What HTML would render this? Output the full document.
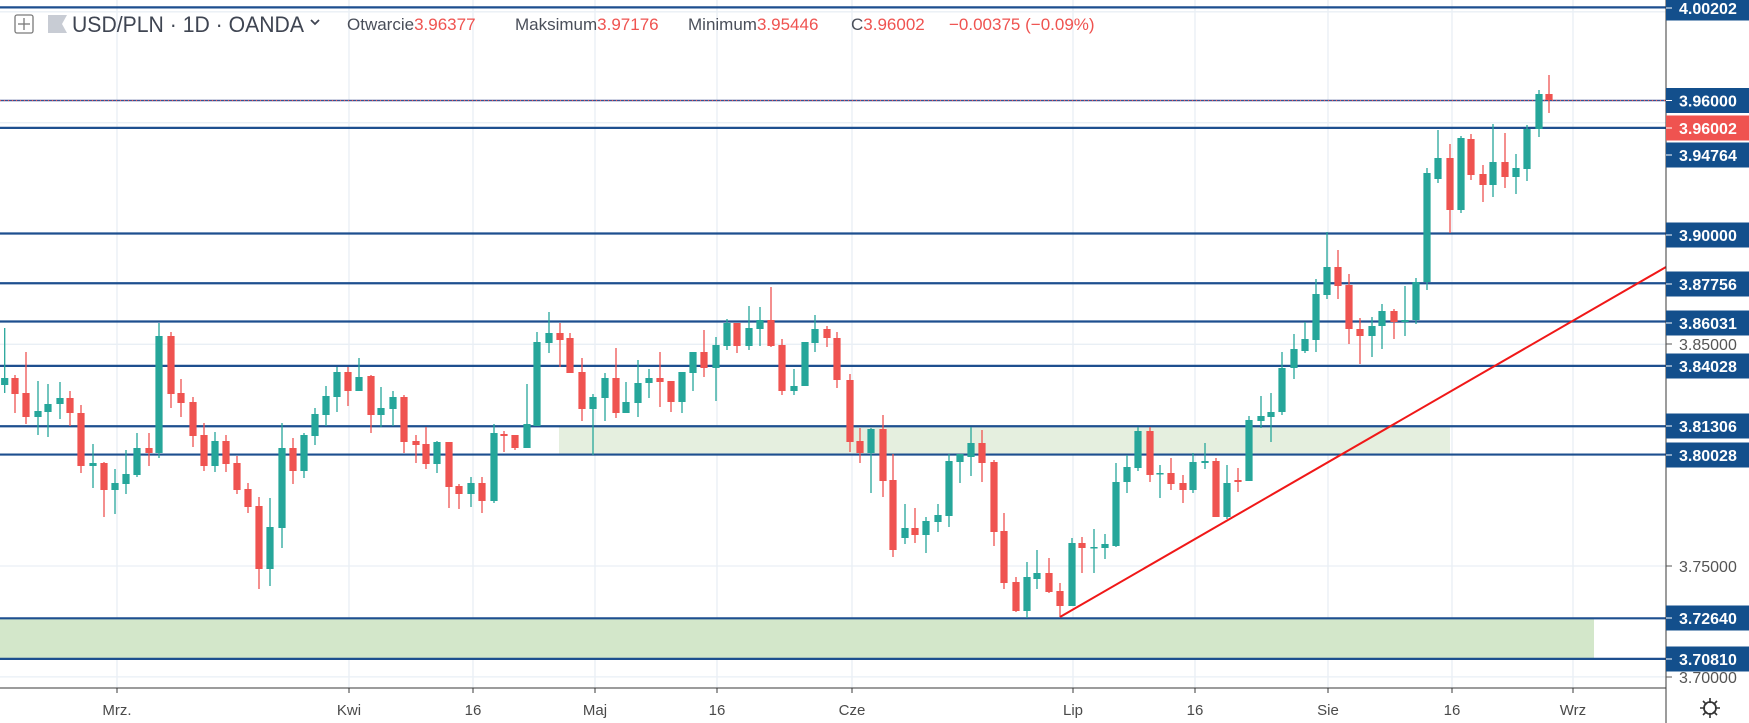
<!DOCTYPE html>
<html><head><meta charset="utf-8"><style>
html,body{margin:0;padding:0;background:#fff;}
svg{display:block;font-family:"Liberation Sans",sans-serif;}
</style></head><body>
<svg id="s" width="1749" height="723" viewBox="0 0 1749 723" xmlns="http://www.w3.org/2000/svg">
<rect width="1749" height="723" fill="#fff"/>
<g id="grid" stroke="#e9eff5" stroke-width="1.3"></g>
<rect x="559" y="426" width="891" height="29" fill="#e5efdf"/>
<rect x="0" y="618" width="1594" height="41" fill="#d3e7ca"/>
<g id="lines"></g>
<g id="candles"></g>
<line x1="1060" y1="617" x2="1666" y2="267" stroke="#f01818" stroke-width="2"/>
<line x1="0" y1="688" x2="1666" y2="688" stroke="#3a3a3a" stroke-width="1"/>
<line x1="1666" y1="0" x2="1666" y2="723" stroke="#3a3a3a" stroke-width="1"/>
<g id="tl" font-size="15" fill="#4a4a4a" text-anchor="middle"></g>
<g id="pl"></g>
<!-- header -->
<rect x="15" y="15" width="18" height="18" rx="2" fill="none" stroke="#7a7a7a" stroke-width="1.3"/>
<line x1="24" y1="18" x2="24" y2="30" stroke="#7a7a7a" stroke-width="1.3"/>
<line x1="18" y1="24" x2="30" y2="24" stroke="#7a7a7a" stroke-width="1.3"/>
<polygon points="48,15 67,15 62,24 67,33 48,33" fill="#c8ccd4"/>
<text x="72" y="32" font-size="22" fill="#3f4552" textLength="232" lengthAdjust="spacingAndGlyphs">USD/PLN · 1D · OANDA</text>
<path d="M311,20 l4,4 l4,-4" fill="none" stroke="#3f4552" stroke-width="1.8"/>
<g font-size="17">
<text x="347" y="30" fill="#4a4f5a">Otwarcie<tspan fill="#ef5350">3.96377</tspan></text>
<text x="515" y="30" fill="#4a4f5a">Maksimum<tspan fill="#ef5350">3.97176</tspan></text>
<text x="688" y="30" fill="#4a4f5a">Minimum<tspan fill="#ef5350">3.95446</tspan></text>
<text x="851" y="30" fill="#4a4f5a">C<tspan fill="#ef5350">3.96002</tspan></text>
<text x="949" y="30" fill="#ef5350">−0.00375 (−0.09%)</text>
</g>
<!-- gear -->
<circle cx="1710" cy="708" r="6" fill="none" stroke="#333" stroke-width="1.6"/>
<g stroke="#333" stroke-width="1.6"><line x1="1710" y1="698" x2="1710" y2="718"/><line x1="1700" y1="708" x2="1720" y2="708"/><line x1="1703" y1="701" x2="1717" y2="715"/><line x1="1717" y1="701" x2="1703" y2="715"/></g>
<circle cx="1710" cy="708" r="5" fill="#fff"/>
<circle cx="1710" cy="708" r="6" fill="none" stroke="#333" stroke-width="1.6"/>
</svg>
<script>
var NS="http://www.w3.org/2000/svg";
function el(t,a,p,txt){var e=document.createElementNS(NS,t);for(var k in a)e.setAttribute(k,a[k]);if(txt!=null)e.textContent=txt;document.getElementById(p).appendChild(e);return e;}
function Y(p){return 100.5+(3.96-p)*2216.7;}
// grid
[117,349,473,595,717,852,1073,1195,1328,1452,1573].forEach(function(x){el('line',{x1:x,y1:0,x2:x,y2:688},'grid');});
[3.95,3.85,3.75,3.70,4.00].forEach(function(p){var y=Y(p);el('line',{x1:0,y1:y,x2:1666,y2:y},'grid');});
// time labels
[[117,'Mrz.'],[349,'Kwi'],[473,'16'],[595,'Maj'],[717,'16'],[852,'Cze'],[1073,'Lip'],[1195,'16'],[1328,'Sie'],[1452,'16'],[1573,'Wrz']].forEach(function(a){el('text',{x:a[0],y:715},'tl',a[1]);el('line',{x1:a[0],y1:688,x2:a[0],y2:693,stroke:'#3a3a3a'},'tl');});
// horizontal levels
[4.00202,3.94764,3.9,3.87756,3.86031,3.84028,3.81306,3.80028,3.7264,3.7081].forEach(function(p){var y=Y(p);el('line',{x1:0,y1:y,x2:1666,y2:y,stroke:'#1d4f8f','stroke-width':2.2},'lines');});
el('line',{x1:0,y1:Y(3.96),x2:1666,y2:Y(3.96),stroke:'#3a4f8f','stroke-width':1.5},'lines');
el('line',{x1:0,y1:Y(3.96),x2:1666,y2:Y(3.96),stroke:'#ef5350','stroke-width':1,'stroke-dasharray':'1 3'},'lines');
// candles [x,o,c,h,l]
var C=[[4.7,385,378,328,393],[15,378,394,375,413],[26,393,417,352,424],[38,417,411,381,435],[48,412,404,384,437],[60,404,398,382,419],[70,398,413,391,426],[81,413,466,405,473],[93,466,463,444,488],[104,463,490,462,517],[115,490,483,469,514],[126,484,474,450,494],[137,475,448,433,477],[149,448,453,433,466],[159,453,336,323,458],[171,336,394,332,408],[181,393,403,379,417],[193,402,436,397,447],[204,435,466,423,471],[215,466,441,432,472],[226,441,464,435,472],[237,463,490,456,494],[248,489,507,483,513],[259,506,569,497,589],[270,569,527,498,586],[282,528,448,423,548],[293,448,471,438,484],[304,471,435,433,478],[315,436,414,408,445],[326,415,396,386,426],[337,397,372,367,412],[348,372,391,367,406],[359,391,377,358,391],[371,376,415,375,433],[381,415,408,387,427],[393,409,397,391,426],[404,397,442,395,453],[416,441,445,435,463],[426,444,464,427,469],[437,464,442,441,473],[449,442,487,442,508],[459,486,494,484,509],[471,494,483,477,507],[482,483,501,477,513],[494,501,433,424,503],[504,434,436,431,452],[515,435,448,435,450],[527,448,424,384,448],[537,426,342,332,426],[549,343,333,312,353],[560,333,340,323,367],[570,338,373,333,373],[582,372,409,358,421],[593,409,397,394,455],[605,398,378,373,421],[616,378,413,348,418],[626,413,402,382,413],[638,403,383,360,417],[649,383,378,369,398],[660,378,382,352,407],[671,381,402,381,412],[682,402,372,372,413],[693,373,352,352,391],[704,352,368,330,377],[716,368,345,337,401],[727,346,323,319,350],[737,323,346,323,353],[749,346,328,306,350],[760,329,320,307,346],[771,320,346,287,347],[782,345,391,339,395],[794,391,386,369,395],[805,386,342,342,386],[815,343,329,315,352],[827,329,338,326,347],[837,338,380,332,388],[850,380,442,374,452],[860,441,453,428,463],[871,453,429,428,493],[883,429,481,415,497],[893,480,550,454,557],[905,538,528,504,544],[915,528,535,508,543],[926,535,521,517,553],[938,522,515,504,532],[949,516,461,454,527],[960,462,454,454,483],[971,457,443,427,476],[982,443,463,430,482],[994,462,532,460,546],[1004,531,583,513,589],[1016,582,611,577,612],[1027,611,577,562,618],[1037,579,573,550,589],[1049,573,592,558,593],[1060,591,606,583,617],[1072,606,543,538,606],[1082,543,548,537,573],[1094,548,547,529,573],[1105,548,544,534,559],[1116,546,482,463,547],[1127,482,467,455,493],[1138,468,431,427,471],[1150,431,475,427,482],[1160,474,473,465,498],[1171,473,484,458,490],[1183,483,490,475,503],[1193,490,462,453,493],[1205,463,461,443,469],[1216,461,517,458,517],[1227,517,483,465,519],[1238,480,482,468,492],[1249,481,420,416,481],[1261,421,416,396,428],[1271,417,412,393,442],[1282,412,368,352,415],[1294,368,349,334,379],[1305,351,339,322,353],[1316,340,294,279,352],[1327,295,267,232,299],[1338,267,286,250,299],[1349,285,329,274,344],[1360,329,336,318,364],[1372,336,326,317,357],[1382,326,311,304,349],[1394,311,322,309,339],[1405,322,320,286,336],[1416,320,282,278,324],[1427,282,173,168,290],[1438,179,158,130,183],[1450,158,210,144,233],[1461,210,138,136,213],[1471,139,175,134,180],[1483,174,185,165,202],[1493,185,162,124,197],[1505,162,177,133,188],[1516,177,168,154,194],[1527,169,129,125,181],[1539,129,94,90,137],[1549,94,100,75,113]];
C.forEach(function(c){var g=c[2]<c[1],col=g?'#26a69a':'#ef5350';var x=c[0];
el('line',{x1:x,y1:c[3],x2:x,y2:c[4],stroke:col,'stroke-width':1.3},'candles');
var t=Math.min(c[1],c[2]),b=Math.max(c[1],c[2]);if(b-t<1.5){b=t+1.5;}
el('rect',{x:x-3.6,y:t,width:7.2,height:b-t,fill:col},'candles');});
// price labels
function lab(y,txt,bg,fg,bold,box){if(box){el('rect',{x:1666,y:y-12.5,width:83,height:25,fill:bg},'pl');}
el('line',{x1:1666,y1:y,x2:1672,y2:y,stroke:box?'#fff':'#555'},'pl');
var t=el('text',{x:1679,y:y+6,'font-size':16,fill:fg,'font-weight':bold?'bold':'normal'},'pl',txt);}
var B='#134f8c';
lab(344,'3.85000','',"#555",false,false);
lab(566,'3.75000','',"#555",false,false);
lab(677,'3.70000','',"#555",false,false);
lab(8,'4.00202',B,'#fff',true,true);
lab(100.5,'3.96000',B,'#fff',true,true);
lab(155,'3.94764',B,'#fff',true,true);
lab(128,'3.96002','#ef5350','#fff',true,true);
lab(235,'3.90000',B,'#fff',true,true);
lab(284,'3.87756',B,'#fff',true,true);
lab(323,'3.86031',B,'#fff',true,true);
lab(366,'3.84028',B,'#fff',true,true);
lab(426,'3.81306',B,'#fff',true,true);
lab(455,'3.80028',B,'#fff',true,true);
lab(618,'3.72640',B,'#fff',true,true);
lab(659,'3.70810',B,'#fff',true,true);
</script>
</body></html>
